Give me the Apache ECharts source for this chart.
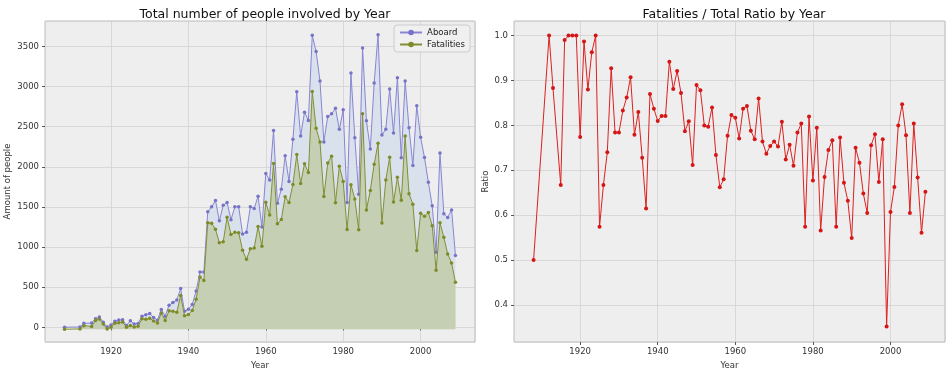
<!DOCTYPE html>
<html>
<head>
<meta charset="utf-8">
<script src="https://cdn.jsdelivr.net/npm/echarts@6/dist/echarts.min.js"></script>
<style>html,body{margin:0;padding:0;background:#fff}#c{width:950px;height:375px}</style>
</head>
<body>
<div id="c"></div>
<script>
const years = [1908,1912,1913,1915,1916,1917,1918,1919,1920,1921,1922,1923,1924,1925,1926,1927,1928,1929,1930,1931,1932,1933,1934,1935,1936,1937,1938,1939,1940,1941,1942,1943,1944,1945,1946,1947,1948,1949,1950,1951,1952,1953,1954,1955,1956,1957,1958,1959,1960,1961,1962,1963,1964,1965,1966,1967,1968,1969,1970,1971,1972,1973,1974,1975,1976,1977,1978,1979,1980,1981,1982,1983,1984,1985,1986,1987,1988,1989,1990,1991,1992,1993,1994,1995,1996,1997,1998,1999,2000,2001,2002,2003,2004,2005,2006,2007,2008,2009];
const aboard = [2,5,51,54,109,128,65,5,31,77,91,95,25,82,42,50,140,157,173,124,90,223,140,276,309,342,483,200,225,285,454,689,689,1440,1502,1580,1328,1522,1555,1341,1502,1502,1163,1184,1502,1481,1634,1250,1918,1836,2454,1547,1720,2137,1819,2343,2937,2384,2681,2578,3638,3436,3069,2310,2628,2661,2731,2467,2710,1555,3168,2364,1658,3482,2574,2223,3044,3647,2397,2467,2970,2421,3110,2112,3069,2487,2017,2760,2368,2116,1807,1514,936,2174,1415,1370,1464,895];
const fatalities = [1,5,45,36,108,128,65,5,24,76,80,91,25,47,28,37,130,123,136,103,78,202,109,229,225,210,420,167,182,234,373,648,605,1320,1313,1238,1071,1085,1387,1175,1203,1195,978,867,996,1007,1272,1028,1572,1415,2054,1306,1358,1642,1570,1794,2163,1805,2051,1940,2945,2490,2320,1643,2059,2144,1568,2020,1831,1237,1791,1614,1232,2670,1477,1719,2042,2303,1316,1847,2129,1575,1884,1597,2393,1678,1549,975,1437,1400,1447,1283,731,1318,1140,932,821,581];
const ratio = [0.5,1.0,0.883,0.667,0.99,1.0,1.0,1.0,0.774,0.987,0.88,0.963,1.0,0.574,0.667,0.74,0.927,0.784,0.784,0.833,0.862,0.907,0.779,0.830,0.728,0.615,0.870,0.837,0.810,0.821,0.821,0.942,0.881,0.921,0.872,0.787,0.809,0.712,0.89,0.878,0.80,0.797,0.84,0.734,0.662,0.68,0.777,0.823,0.817,0.771,0.837,0.843,0.788,0.769,0.86,0.764,0.737,0.754,0.764,0.753,0.808,0.724,0.757,0.71,0.784,0.804,0.574,0.82,0.677,0.795,0.566,0.685,0.745,0.767,0.574,0.773,0.672,0.632,0.549,0.75,0.717,0.648,0.605,0.756,0.78,0.674,0.769,0.352,0.607,0.663,0.80,0.847,0.778,0.605,0.804,0.684,0.561,0.652];
const yearTicks = [1920,1940,1960,1980,2000];
const peopleTicks = [0,500,1000,1500,2000,2500,3000,3500];
const ratioTicks = [0.4,0.5,0.6,0.7,0.8,0.9,1.0];

const FONT = 'DejaVu Sans';
const pair = (arr) => years.map((y, i) => [y, arr[i]]);
const eq = (a, b) => Math.abs(a - b) < 1e-6;

function xAxisCfg(gridIndex, visible) {
  return {
    type: 'value', gridIndex, min: 1902.95, max: 2014.05, show: visible,
    name: visible ? 'Year' : '', nameLocation: 'middle', nameGap: 19,
    nameTextStyle: { fontFamily: FONT, fontSize: 8.5, color: '#333' },
    axisLine: { show: false },
    axisTick: { show: visible, length: 3, lineStyle: { color: '#555' } },
    axisLabel: { show: visible, fontFamily: FONT, fontSize: 8.5, color: '#333', margin: 5,
      showMinLabel: false, showMaxLabel: false,
      formatter: v => yearTicks.some(t => eq(t, v)) ? String(v) : '' },
    splitLine: { show: visible, lineStyle: { color: '#d2d2d2', width: 0.8 } },
    minInterval: 20, maxInterval: 20
  };
}
function peopleAxis(gridIndex, visible) {
  return { type: 'value', gridIndex, min: -182, max: 3817, minInterval: 500, maxInterval: 500, show: visible,
      name: visible ? 'Amount of people' : '', nameLocation: 'middle', nameGap: 33,
      nameTextStyle: { fontFamily: FONT, fontSize: 8.5, color: '#333' },
      axisLine: { show: false },
      axisTick: { show: visible, length: 3, lineStyle: { color: '#555' } },
      axisLabel: { show: visible, fontFamily: FONT, fontSize: 8.5, color: '#333', margin: 6,
        showMinLabel: false, showMaxLabel: false,
        formatter: v => peopleTicks.some(t => eq(t, v)) ? String(v) : '' },
      splitLine: { show: visible, lineStyle: { color: '#d2d2d2', width: 0.8 } } };
}

const option = {
  backgroundColor: '#ffffff',
  animation: false,
  title: [
    { text: 'Total number of people involved by Year', left: 260, top: 3, textAlign: 'center',
      textStyle: { fontFamily: FONT, fontSize: 12.5, fontWeight: 'normal', color: '#111' } },
    { text: 'Fatalities / Total Ratio by Year', left: 729, top: 3, textAlign: 'center',
      textStyle: { fontFamily: FONT, fontSize: 12.5, fontWeight: 'normal', color: '#111' } }
  ],
  legend: {
    data: ['Aboard', 'Fatalities'], orient: 'vertical', right: 480, top: 25, z: 10,
    backgroundColor: '#f0f0f0', borderColor: '#cccccc', borderWidth: 1, borderRadius: 3,
    padding: [3, 5, 3, 5], itemGap: 3, itemWidth: 22, itemHeight: 7,
    textStyle: { fontFamily: FONT, fontSize: 8.5, color: '#222' }
  },
  grid: [
    { left: 45, top: 21, width: 430, height: 323, show: true, backgroundColor: '#eeeeee', borderColor: '#bcbcbc', borderWidth: 1 },
    { left: 514, top: 21, width: 431, height: 323, show: true, backgroundColor: '#eeeeee', borderColor: '#bcbcbc', borderWidth: 1 },
    { left: 45, top: 21, width: 430, height: 323, show: false }
  ],
  xAxis: [xAxisCfg(0, true), xAxisCfg(1, true), xAxisCfg(2, false)],
  yAxis: [
    peopleAxis(0, true),
    { type: 'value', gridIndex: 1, min: 0.3175, max: 1.0325, minInterval: 0.1, maxInterval: 0.1,
      name: 'Ratio', nameLocation: 'middle', nameGap: 24,
      nameTextStyle: { fontFamily: FONT, fontSize: 8.5, color: '#333' },
      axisLine: { show: false },
      axisTick: { show: true, length: 3, lineStyle: { color: '#555' } },
      axisLabel: { fontFamily: FONT, fontSize: 8.5, color: '#333', margin: 6,
        showMinLabel: false, showMaxLabel: false,
        formatter: v => { const t = ratioTicks.find(r => eq(r, v)); return t !== undefined ? t.toFixed(1) : ''; } },
      splitLine: { show: true, lineStyle: { color: '#d2d2d2', width: 0.8 } } },
    peopleAxis(2, false)
  ],
  series: [
    { name: 'Aboard', type: 'line', xAxisIndex: 0, yAxisIndex: 0, data: pair(aboard),
      symbol: 'circle', symbolSize: 3.5, showSymbol: true,
      itemStyle: { color: '#7773c6' },
      lineStyle: { color: '#8885d4', width: 1 },
      areaStyle: { color: '#d9e2ec', opacity: 1 }, z: 2 },
    { name: 'Fatalities', type: 'line', xAxisIndex: 2, yAxisIndex: 2, data: pair(fatalities),
      symbol: 'circle', symbolSize: 3.5, showSymbol: true,
      itemStyle: { color: '#7f8b26' },
      lineStyle: { color: '#838f35', width: 1 },
      areaStyle: { color: '#c4cfb4', opacity: 1 }, z: 3 },
    { name: 'Ratio', type: 'line', xAxisIndex: 1, yAxisIndex: 1, data: pair(ratio),
      symbol: 'circle', symbolSize: 4, showSymbol: true,
      itemStyle: { color: '#d61515' },
      lineStyle: { color: '#dd2020', width: 1 }, z: 3 }
  ]
};
const chart = echarts.init(document.getElementById('c'), null, { renderer: 'canvas' });
chart.setOption(option);
</script>
</body>
</html>
